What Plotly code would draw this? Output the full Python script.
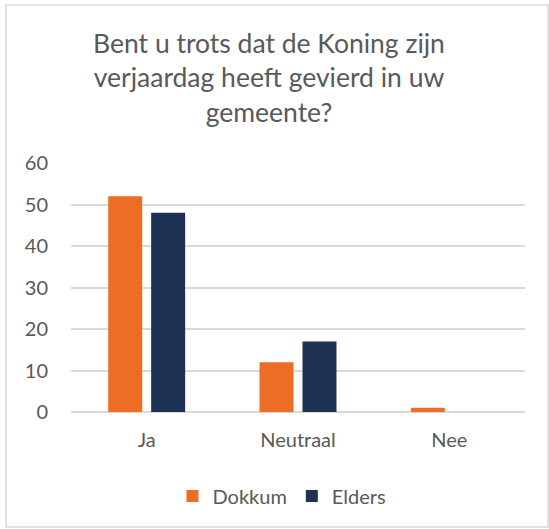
import plotly.graph_objects as go

categories = ["Ja", "Neutraal", "Nee"]
dokkum = [52, 12, 1]
elders = [48, 17, 0]
yticks = [0, 10, 20, 30, 40, 50, 60]

W, H = 549, 529
L, R, T, B = 71, 24, 163, 117
pw, ph = W - L - R, H - T - B

fig = go.Figure()
fig.add_trace(go.Bar(name="Dokkum", x=categories, y=dokkum, marker_color="#ED6D25",
                     marker_line_width=0))
fig.add_trace(go.Bar(name="Elders", x=categories, y=elders, marker_color="#1C3153",
                     marker_line_width=0))

def px_x(x):
    return (x - L) / pw

def px_y(y):
    return (H - B - y) / ph

fig.update_layout(
    width=W, height=H,
    margin=dict(l=L, r=R, t=T, b=B),
    paper_bgcolor="white", plot_bgcolor="white",
    barmode="group", bargap=0.432, bargroupgap=0.209,
    title=dict(text="Bent u trots dat de Koning zijn<br>verjaardag heeft gevierd in uw<br>gemeente?",
               x=269 / W, xanchor="center", y=1 - 53 / H, yanchor="top",
               font=dict(family="Lato", size=26.5, color="#595959")),
    font=dict(family="Lato", color="#595959"),
    showlegend=True,
    legend=dict(orientation="h", x=px_x(282), xanchor="center", y=px_y(496), yanchor="middle",
                font=dict(size=20, color="#595959"), itemwidth=30, tracegroupgap=0),
    xaxis=dict(showgrid=False, showline=False, ticks="", ticklabelstandoff=14,
               tickfont=dict(size=20, color="#595959")),
    yaxis=dict(range=[0, 60], tickvals=yticks, showgrid=True, gridcolor="#D9D9D9", gridwidth=1.5,
               zeroline=True, zerolinecolor="#D9D9D9", zerolinewidth=1.5,
               showline=False, ticks="", ticklabelstandoff=22,
               tickfont=dict(size=20, color="#595959")),
    shapes=[dict(type="rect", xref="paper", yref="paper",
                 x0=px_x(6), x1=px_x(548), y0=px_y(527), y1=px_y(5),
                 line=dict(color="#D9D9D9", width=1.5), fillcolor="rgba(0,0,0,0)", layer="below")],
)

fig.write_html("out.html", config={"displayModeBar": False},
               post_script="document.body.style.margin='0px';")
